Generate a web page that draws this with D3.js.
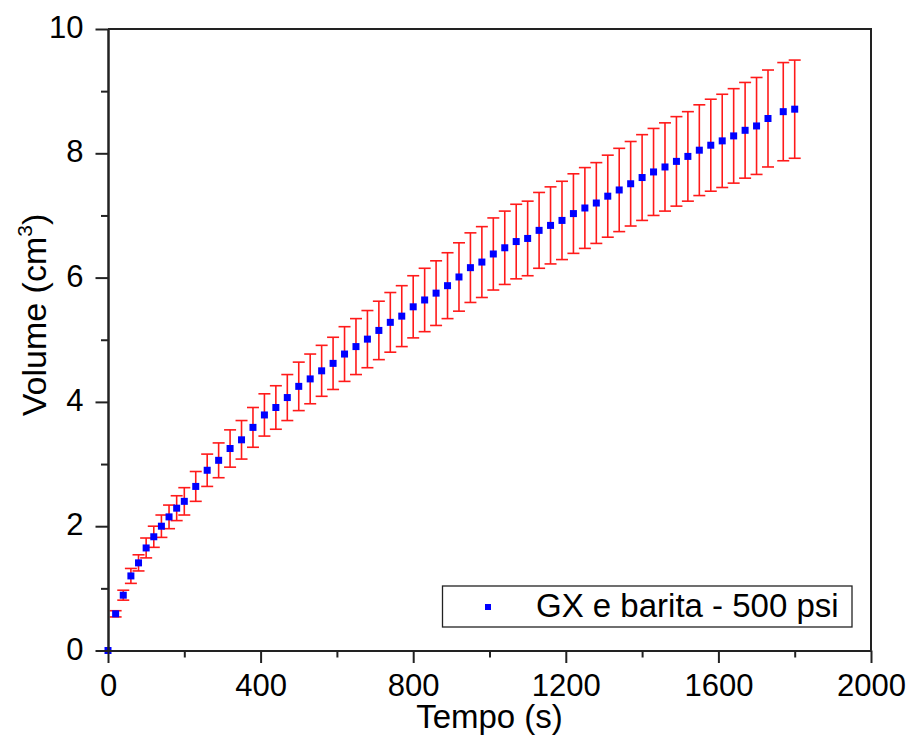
<!DOCTYPE html>
<head>
  <title>Volume vs Tempo</title>
  <style>
    body { margin: 0; background: #fff; }
    svg text { font-family: "Liberation Sans", Arial, sans-serif; fill: #000; }
  </style>
</head>
<body>
  <script src="https://cdn.jsdelivr.net/npm/d3@7/dist/d3.min.js"></script>
  <script>
    // data
    var tempo = [0, 20, 40, 60, 80, 100, 120, 140, 160, 180, 200,
      230, 260, 290, 320, 350, 380, 410, 440, 470, 500, 530, 560, 590, 620, 650,
      680, 710, 740, 770, 800, 830, 860, 890, 920, 950, 980, 1010, 1040, 1070,
      1100, 1130, 1160, 1190, 1220, 1250, 1280, 1310, 1340, 1370, 1400, 1430,
      1460, 1490, 1520, 1550, 1580, 1610, 1640, 1670, 1700, 1730, 1770, 1800];
    var volume = [0, 0.59, 0.89, 1.20, 1.41, 1.65, 1.83, 2.00, 2.15, 2.29, 2.40,
      2.64, 2.90, 3.06, 3.25, 3.39, 3.59, 3.79, 3.91, 4.07, 4.25, 4.37, 4.50, 4.62, 4.77, 4.89,
      5.01, 5.15, 5.28, 5.38, 5.53, 5.64, 5.75, 5.87, 6.01, 6.16, 6.25, 6.38, 6.48, 6.58,
      6.63, 6.76, 6.84, 6.92, 7.03, 7.12, 7.20, 7.31, 7.41, 7.51, 7.61, 7.70,
      7.78, 7.87, 7.95, 8.05, 8.13, 8.20, 8.28, 8.37, 8.44, 8.56, 8.67, 8.71];
    var erro = [0, 0.05, 0.08, 0.12, 0.13, 0.16, 0.17, 0.18, 0.19, 0.20, 0.22,
      0.24, 0.26, 0.28, 0.30, 0.31, 0.32, 0.34, 0.35, 0.37, 0.39, 0.40, 0.41, 0.42, 0.44, 0.45,
      0.46, 0.47, 0.48, 0.49, 0.50, 0.51, 0.52, 0.53, 0.55, 0.56, 0.57, 0.58, 0.59, 0.60,
      0.60, 0.61, 0.62, 0.63, 0.64, 0.65, 0.65, 0.66, 0.67, 0.68, 0.69, 0.70,
      0.71, 0.72, 0.72, 0.73, 0.74, 0.75, 0.76, 0.77, 0.78, 0.78, 0.79, 0.79];
    var xMajor = [0, 400, 800, 1200, 1600, 2000];
    var xMinor = [200, 600, 1000, 1400, 1800];
    var yMajor = [0, 2, 4, 6, 8, 10];
    var yMinor = [1, 3, 5, 7, 9];
    var legendLabel = "GX e barita - 500 psi";

    var w = 911, h = 740;
    var padL = 108, padR = 871, padT = 29, padB = 650.5;

    var x = d3.scaleLinear().domain([0, 2000]).range([padL, padR]);
    var y = d3.scaleLinear().domain([0, 10]).range([padB, padT]);

    var svg = d3.select("body").append("svg")
      .attr("width", w)
      .attr("height", h);

    svg.append("rect").attr("width", w).attr("height", h).attr("fill", "#fff");

    var data = tempo.map(function(t, i) {
      return { t: t, v: volume[i], e: erro[i] };
    });

    // error bars
    var cap = 6;
    var eb = svg.append("g")
      .attr("stroke", "#ff1a1a")
      .attr("stroke-width", 1.6)
      .selectAll("g")
      .data(data.filter(function(d) { return d.e > 0; }))
      .enter().append("g");
    eb.append("line")
      .attr("x1", function(d) { return x(d.t); })
      .attr("x2", function(d) { return x(d.t); })
      .attr("y1", function(d) { return y(d.v + d.e); })
      .attr("y2", function(d) { return y(d.v - d.e); });
    eb.append("line")
      .attr("x1", function(d) { return x(d.t) - cap; })
      .attr("x2", function(d) { return x(d.t) + cap; })
      .attr("y1", function(d) { return y(d.v + d.e); })
      .attr("y2", function(d) { return y(d.v + d.e); });
    eb.append("line")
      .attr("x1", function(d) { return x(d.t) - cap; })
      .attr("x2", function(d) { return x(d.t) + cap; })
      .attr("y1", function(d) { return y(d.v - d.e); })
      .attr("y2", function(d) { return y(d.v - d.e); });

    // points
    var ms = 7;
    svg.append("g").selectAll("rect")
      .data(data)
      .enter().append("rect")
      .attr("x", function(d) { return x(d.t) - ms / 2; })
      .attr("y", function(d) { return y(d.v) - ms / 2; })
      .attr("width", ms)
      .attr("height", ms)
      .attr("fill", "#0000ff");

    // frame (top & right, no ticks)
    svg.append("path")
      .attr("d", "M" + padL + "," + padT + "H" + padR + "V" + padB)
      .attr("fill", "none")
      .attr("stroke", "#222")
      .attr("stroke-width", 2);

    // axes
    var xAxis = d3.axisBottom(x).tickValues(xMajor).tickFormat(d3.format("d"))
      .tickSize(12.5).tickSizeOuter(0).tickPadding(11);
    var gx = svg.append("g")
      .attr("transform", "translate(0," + padB + ")")
      .call(xAxis);
    gx.append("g").call(d3.axisBottom(x).tickValues(xMinor).tickSize(7).tickSizeOuter(0).tickFormat(""));

    var yAxis = d3.axisLeft(y).tickValues(yMajor).tickFormat(d3.format("d"))
      .tickSize(12.5).tickSizeOuter(0).tickPadding(12);
    var gy = svg.append("g")
      .attr("transform", "translate(" + padL + ",0)")
      .call(yAxis);
    gy.append("g").call(d3.axisLeft(y).tickValues(yMinor).tickSize(7).tickSizeOuter(0).tickFormat(""));

    svg.selectAll(".domain").attr("stroke", "#222").attr("stroke-width", 2);
    svg.selectAll(".tick line").attr("stroke", "#222").attr("stroke-width", 2);
    svg.selectAll(".tick text").attr("font-size", 31).attr("font-family", "Liberation Sans, Arial, sans-serif").attr("fill", "#000");
    gy.selectAll(".tick text").attr("dy", "0.28em");

    // axis titles
    svg.append("text")
      .attr("x", (padL + padR) / 2)
      .attr("y", 728)
      .attr("text-anchor", "middle")
      .attr("font-size", 33)
      .text("Tempo (s)");

    var yt = svg.append("text")
      .attr("transform", "translate(46,315) rotate(-90)")
      .attr("text-anchor", "middle")
      .attr("font-size", 34);
    yt.append("tspan").text("Volume (cm");
    yt.append("tspan").attr("font-size", 21).attr("dy", -14).text("3");
    yt.append("tspan").attr("dy", 14).text(")");

    // legend
    var lg = svg.append("g");
    lg.append("rect")
      .attr("x", 442.5).attr("y", 586)
      .attr("width", 409.5).attr("height", 41)
      .attr("fill", "#fff")
      .attr("stroke", "#222")
      .attr("stroke-width", 1.3);
    lg.append("rect")
      .attr("x", 485).attr("y", 604)
      .attr("width", 6).attr("height", 6)
      .attr("fill", "#0000ff");
    lg.append("text")
      .attr("x", 536).attr("y", 617)
      .attr("font-size", 33)
      .text(legendLabel);
  </script>
</body>
